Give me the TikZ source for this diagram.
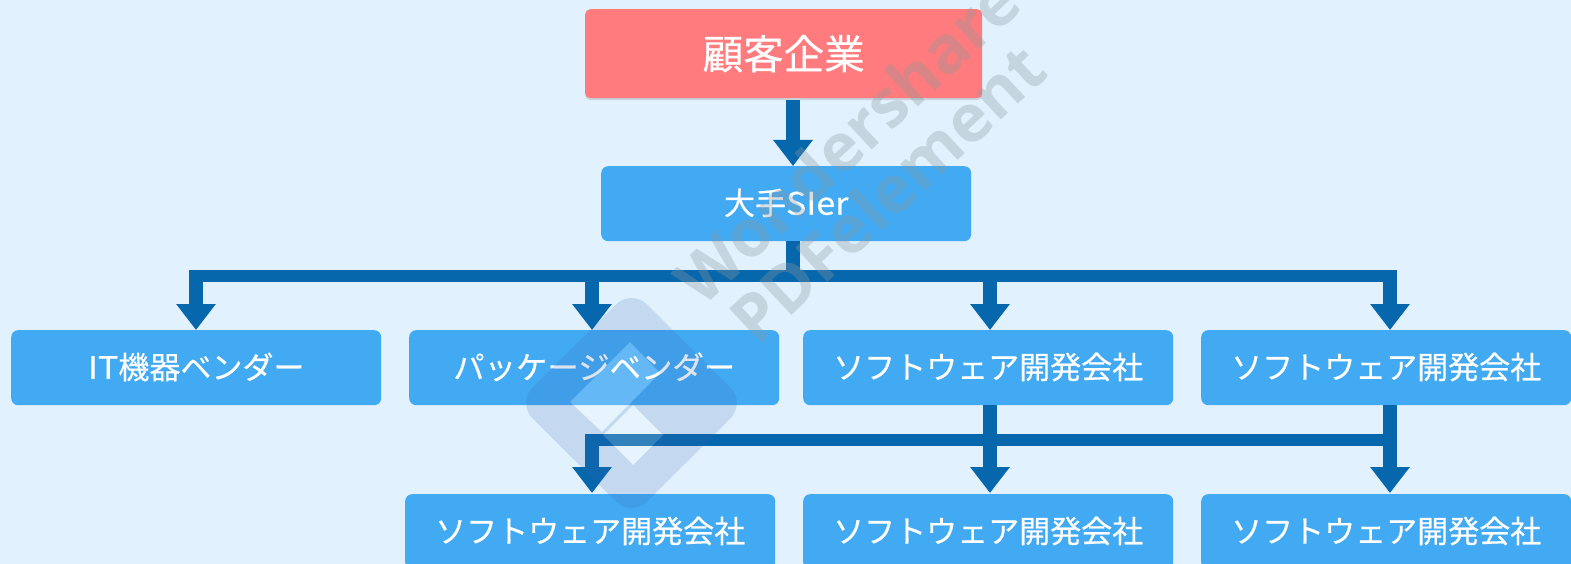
\documentclass[tikz,border=0pt]{standalone}
\usepackage{fontspec}
\setmainfont{Noto Sans CJK JP}[FakeBold=0.4]
\newfontfamily\wmfont{Open Sans}
\usetikzlibrary{arrows.meta,shadows,calc}
\definecolor{bgc}{HTML}{E1F2FE}
\definecolor{redc}{HTML}{FF7B7D}
\definecolor{boxc}{HTML}{42A9F3}
\definecolor{linec}{HTML}{0767AD}
\definecolor{wmc}{HTML}{8A9AA0}
\definecolor{logoc}{HTML}{3A62B0}
\newcommand{\swtext}{\raisebox{4pt}{\fontsize{31}{34}\selectfont ソフトウェア開発会社}}
\tikzset{
  x=1pt,y=-1pt,
  box/.style={draw=none,fill=boxc,rounded corners=7pt,text=white,inner sep=0pt,anchor=north west,minimum width=370pt,minimum height=75pt},
  redbox/.style={box,fill=redc,drop shadow={opacity=.25,shadow xshift=0pt,shadow yshift=-2pt},minimum width=397pt,minimum height=89pt,rounded corners=5pt},
  wbar/.style={draw=linec,line width=12pt},
  stem/.style={draw=linec,line width=14pt},
  tipbar/.style={draw=linec,line width=14pt,-{Triangle[width=38pt,length=26pt,fill=linec]}},
  wm/.style={text=wmc,opacity=.33,font=\wmfont\fontsize{66}{70}\selectfont\bfseries,rotate=43,inner sep=0pt},
}
\begin{document}
\begin{tikzpicture}
\useasboundingbox (0,0) rectangle (1571,564);
\fill[bgc] (0,0) rectangle (1571,564);
\begin{scope}
\clip (0,0) rectangle (1571,564);
\node[redbox] (kokyaku) at (585,9) {\raisebox{-2pt}{\fontsize{40.5}{44}\selectfont 顧客企業}};
\node[box] (sier) at (601,166) {\raisebox{4pt}{\fontsize{31}{34}\selectfont 大手\scalebox{1.1}[1]{SIer}}};
\node[box] (it) at (11,330) {\raisebox{4pt}{\fontsize{31}{34}\selectfont \scalebox{1.1}[1]{IT}機器ベンダー}};
\node[box] (pkg) at (409,330) {\raisebox{4pt}{\fontsize{31.4}{34}\selectfont パッケージベンダー}};
\node[box] (sw1) at (803,330) {\swtext};
\node[box] (sw2) at (1201,330) {\swtext};
\node[box] (sw3) at (405,494) {\swtext};
\node[box] (sw4) at (803,494) {\swtext};
\node[box] (sw5) at (1201,494) {\swtext};
% connectors
\coordinate (a1) at (793,100);
\draw[tipbar] (a1) -- (sier.north -| a1);
\coordinate (s2) at (793,276);
\draw[stem] (sier.south -| s2) -- (s2);
\coordinate (bl) at (196,276);
\coordinate (bp) at (592,276);
\coordinate (bs) at (990,276);
\coordinate (br) at (1390,276);
\draw[wbar] ($(bl)+(-7,0)$) -- ($(br)+(7,0)$);
\draw[tipbar] (bl) -- (it.north -| bl);
\draw[tipbar] (bp) -- (pkg.north -| bp);
\draw[tipbar] (bs) -- (sw1.north -| bs);
\draw[tipbar] (br) -- (sw2.north -| br);
\coordinate (cl) at (592,440);
\coordinate (cm) at (990,440);
\coordinate (cr) at (1390,440);
\draw[wbar] ($(cl)+(-7,0)$) -- ($(cr)+(7,0)$);
\draw[tipbar] (sw1.south -| cm) -- ($(sw4.north -| cm)+(0,-1)$);
\draw[tipbar] (sw2.south -| cr) -- ($(sw5.north -| cr)+(0,-1)$);
\draw[tipbar] ($(cl)+(0,-6)$) -- ($(sw3.north -| cl)+(0,-1)$);
% watermark
\node[wm] (wm1) at (847,140) {Wondershare};
\node[wm] (wm2) at (887,193) {PDFelement};
\fill[logoc,opacity=.17,even odd rule,rounded corners=22pt]
  (631.5,289) -- (746,403) -- (631.5,517) -- (517,403) -- cycle
  [sharp corners]
  (630,342) -- (660,373) -- (602,432) -- (570,402) -- cycle
  (633,405) -- (663,435) -- (633,465) -- (603,435) -- cycle;
\fill[white,opacity=.18] (630,342) -- (660,373) -- (602,432) -- (570,402) -- cycle;
\fill[white,opacity=.18] (633,405) -- (663,435) -- (633,465) -- (603,435) -- cycle;
\end{scope}
\end{tikzpicture}
\end{document}
